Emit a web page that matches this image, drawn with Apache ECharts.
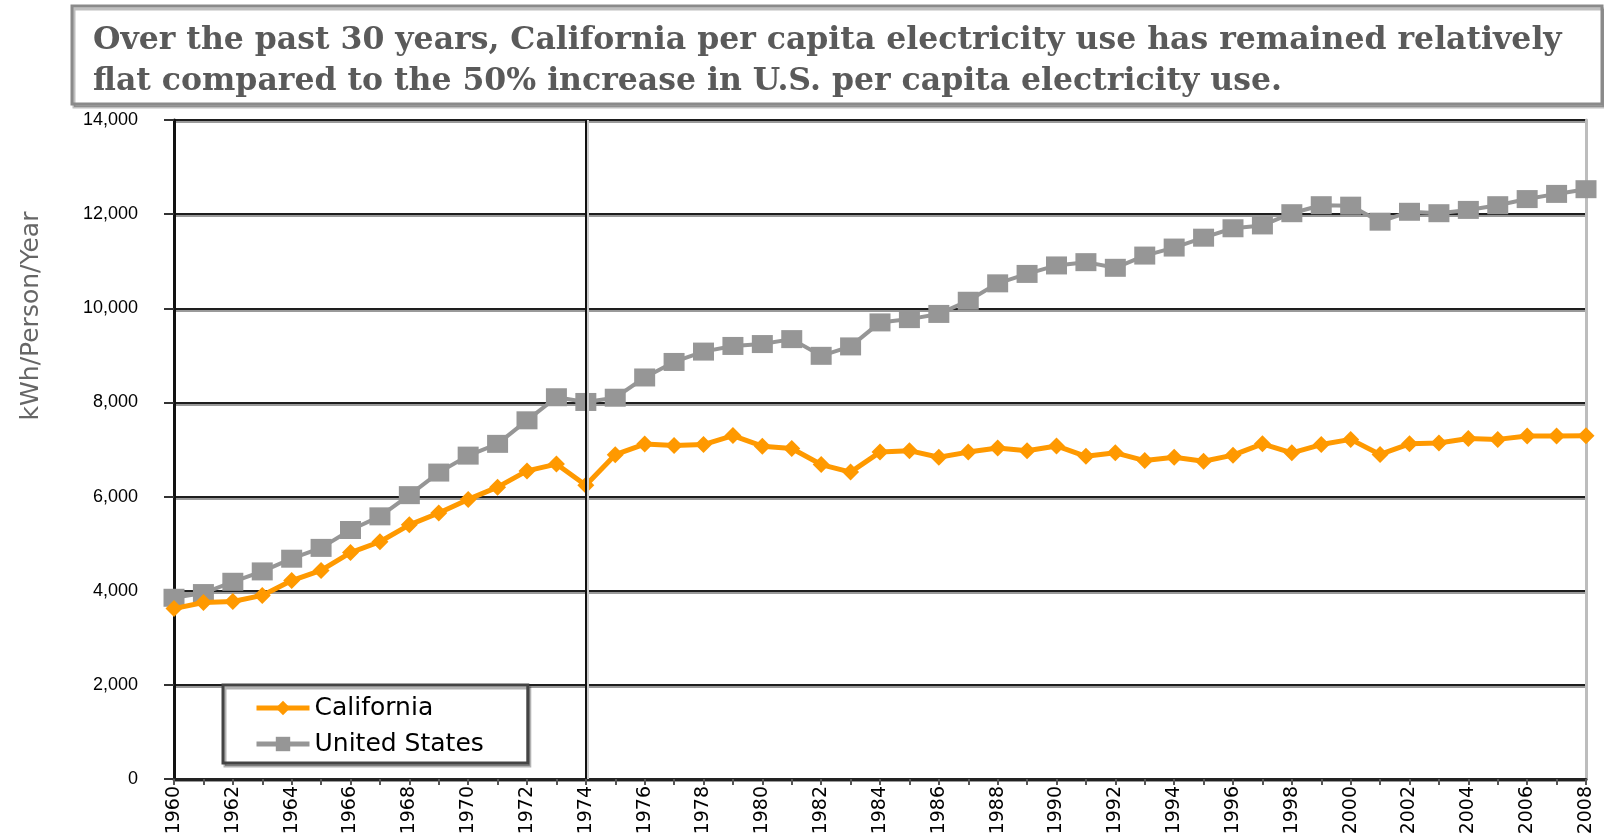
<!DOCTYPE html>
<html>
<head>
<meta charset="utf-8">
<script src="https://cdn.jsdelivr.net/npm/echarts@6/dist/echarts.min.js"></script>
<style>
  html, body { margin: 0; padding: 0; background: #fff; }
  #chart { width: 1604px; height: 839px; }
</style>
</head>
<body>
<div id="chart"></div>
<script>
const titleLines = [
  'Over the past 30 years, California per capita electricity use has remained relatively',
  'flat compared to the 50% increase in U.S. per capita electricity use.'
];
const yAxisName = 'kWh/Person/Year';
const years = [];
for (let y = 1960; y <= 2008; y++) years.push(String(y));
const markerYear = '1974';
const seriesNames = ['California', 'United States'];
const california = [3620,3750,3770,3900,4215,4430,4810,5040,5400,5650,
  5940,6200,6545,6690,6240,6890,7115,7085,7105,7295,
  7070,7020,6680,6520,6945,6975,6835,6945,7030,6975,
  7075,6855,6930,6765,6835,6750,6880,7120,6930,7105,
  7215,6895,7120,7140,7235,7215,7285,7285,7290];
const unitedStates = [3850,3950,4190,4410,4680,4910,5290,5580,6030,6510,
  6870,7120,7620,8110,8010,8100,8530,8860,9080,9200,
  9240,9345,8990,9190,9700,9770,9880,10160,10530,10730,
  10910,10980,10860,11120,11290,11500,11700,11760,12020,12190,
  12180,11840,12050,12020,12090,12190,12320,12430,12530];
const yMin = 0, yMax = 14000, yStep = 2000;

const chart = echarts.init(document.getElementById('chart'), null, { renderer: 'canvas' });
const option = {
  animation: false,
  backgroundColor: '#ffffff',
  title: {
    text: titleLines.join('\n'),
    left: 88,
    top: 15,
    textStyle: {
      fontFamily: 'DejaVu Serif',
      fontWeight: 'bold',
      fontSize: 31.5,
      color: '#5a5a5a',
      lineHeight: 41
    }
  },
  graphic: [
    {
      type: 'rect',
      z: -1,
      shape: { x: 72, y: 6, width: 1530, height: 98 },
      style: {
        fill: '#ffffff',
        stroke: '#8a8a8a',
        lineWidth: 3,
        shadowColor: 'rgba(0,0,0,0.25)',
        shadowOffsetX: 2,
        shadowOffsetY: 3,
        shadowBlur: 0
      }
    },
    {
      type: 'text',
      x: 31,
      y: 316,
      rotation: Math.PI / 2,
      style: {
        text: yAxisName,
        fontFamily: 'DejaVu Sans',
        fontSize: 25,
        fill: '#666666',
        align: 'center',
        verticalAlign: 'middle'
      }
    }
  ],
  legend: {
    data: seriesNames,
    orient: 'vertical',
    left: 223,
    top: 685,
    padding: [8, 44, 4, 31],
    itemGap: 6,
    itemWidth: 53,
    itemHeight: 18,
    borderColor: '#444444',
    borderWidth: 3,
    backgroundColor: '#ffffff',
    shadowColor: 'rgba(0,0,0,0.3)',
    shadowOffsetX: 2,
    shadowOffsetY: 3,
    lineStyle: { width: 5 },
    textStyle: {
      fontFamily: 'DejaVu Sans',
      fontSize: 25,
      color: '#000000',
      lineHeight: 30
    }
  },
  grid: {
    left: 174,
    right: 18,
    top: 120,
    bottom: 60
  },
  xAxis: {
    type: 'category',
    data: years,
    boundaryGap: false,
    axisLine: { show: true, lineStyle: { color: '#222222', width: 3 } },
    axisTick: { show: true, interval: 0, length: 6, lineStyle: { color: '#555555', width: 2 } },
    axisLabel: {
      interval: 1,
      rotate: 90,
      margin: 7,
      fontFamily: 'DejaVu Sans',
      fontSize: 19,
      color: '#000000'
    },
    splitLine: { show: false }
  },
  yAxis: [
    {
      type: 'value',
      min: yMin,
      max: yMax,
      interval: yStep,
      axisLine: { show: true, lineStyle: { color: '#111111', width: 3 } },
      axisTick: { show: true, inside: false, length: 10, lineStyle: { color: '#333333', width: 2 } },
      axisLabel: {
        margin: 36,
        fontFamily: 'Liberation Sans',
        fontSize: 18,
        color: '#000000',
        formatter: v => v.toLocaleString('en-US')
      },
      splitLine: {
        show: true,
        lineStyle: { color: '#1e1e1e', width: 2, shadowColor: '#9a9a9a', shadowOffsetY: 2 }
      }
    },
    {
      type: 'value',
      position: 'right',
      min: yMin,
      max: yMax,
      interval: yStep,
      axisLine: { show: true, lineStyle: { color: '#bdbdbd', width: 3 } },
      axisTick: { show: false },
      axisLabel: { show: false },
      splitLine: { show: false }
    }
  ],
  series: [
    {
      name: 'United States',
      type: 'line',
      data: unitedStates,
      symbol: 'rect',
      symbolSize: [21, 18],
      z: 2,
      itemStyle: { color: '#969696' },
      lineStyle: { color: '#969696', width: 4 }
    },
    {
      name: 'California',
      type: 'line',
      data: california,
      symbol: 'diamond',
      symbolSize: 17,
      z: 3,
      itemStyle: { color: '#ff9900' },
      lineStyle: { color: '#ff9900', width: 5 },
      markLine: {
        silent: true,
        symbol: 'none',
        label: { show: false },
        lineStyle: { color: '#111111', width: 2, type: 'solid', shadowColor: '#cccccc', shadowOffsetX: 2 },
        data: [{ xAxis: markerYear }]
      }
    }
  ]
};
chart.setOption(option);
</script>
</body>
</html>
